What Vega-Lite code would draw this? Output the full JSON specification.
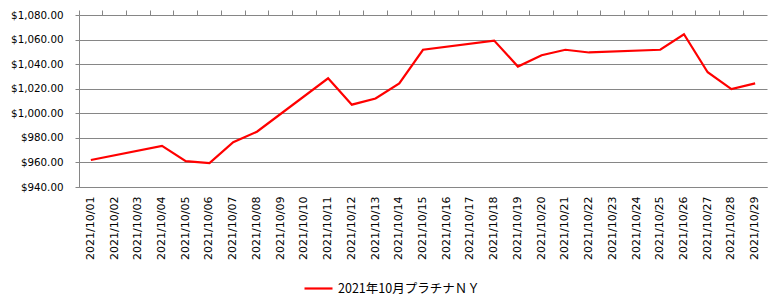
{
  "$schema": "https://vega.github.io/schema/vega-lite/v6.json",
  "autosize": "none",
  "width": 688,
  "height": 172,
  "padding": {"left": 79, "top": 15, "right": 15, "bottom": 115},
  "background": "white",
  "config": {
    "view": {"stroke": null},
    "axis": {"labelFont": "DejaVu Sans", "labelColor": "#000000", "domainColor": "#868686", "tickColor": "#868686", "gridColor": "#868686", "gridOpacity": 1, "title": null},
    "legend": {"labelFont": "Noto Sans CJK JP", "labelFontSize": 12.5, "labelColor": "#000000"}
  },
  "data": {
    "values": [
      {"date": "2021/10/01", "price": 962.0, "series": "2021年10月プラチナＮＹ"},
      {"date": "2021/10/04", "price": 973.5, "series": "2021年10月プラチナＮＹ"},
      {"date": "2021/10/05", "price": 961.0, "series": "2021年10月プラチナＮＹ"},
      {"date": "2021/10/06", "price": 959.5, "series": "2021年10月プラチナＮＹ"},
      {"date": "2021/10/07", "price": 976.5, "series": "2021年10月プラチナＮＹ"},
      {"date": "2021/10/08", "price": 985.0, "series": "2021年10月プラチナＮＹ"},
      {"date": "2021/10/11", "price": 1028.5, "series": "2021年10月プラチナＮＹ"},
      {"date": "2021/10/12", "price": 1007.0, "series": "2021年10月プラチナＮＹ"},
      {"date": "2021/10/13", "price": 1012.0, "series": "2021年10月プラチナＮＹ"},
      {"date": "2021/10/14", "price": 1024.3, "series": "2021年10月プラチナＮＹ"},
      {"date": "2021/10/15", "price": 1051.7, "series": "2021年10月プラチナＮＹ"},
      {"date": "2021/10/18", "price": 1059.2, "series": "2021年10月プラチナＮＹ"},
      {"date": "2021/10/19", "price": 1038.0, "series": "2021年10月プラチナＮＹ"},
      {"date": "2021/10/20", "price": 1047.3, "series": "2021年10月プラチナＮＹ"},
      {"date": "2021/10/21", "price": 1051.7, "series": "2021年10月プラチナＮＹ"},
      {"date": "2021/10/22", "price": 1049.5, "series": "2021年10月プラチナＮＹ"},
      {"date": "2021/10/25", "price": 1051.7, "series": "2021年10月プラチナＮＹ"},
      {"date": "2021/10/26", "price": 1064.3, "series": "2021年10月プラチナＮＹ"},
      {"date": "2021/10/27", "price": 1033.4, "series": "2021年10月プラチナＮＹ"},
      {"date": "2021/10/28", "price": 1019.7, "series": "2021年10月プラチナＮＹ"},
      {"date": "2021/10/29", "price": 1024.3, "series": "2021年10月プラチナＮＹ"}
    ]
  },
  "layer": [
    {
      "mark": {"type": "line", "strokeWidth": 2.2, "interpolate": "linear"},
      "encoding": {
        "x": {
          "field": "date", "type": "ordinal",
          "scale": {"type": "band", "paddingInner": 0, "paddingOuter": 0,
            "domain": ["2021/10/01","2021/10/02","2021/10/03","2021/10/04","2021/10/05","2021/10/06","2021/10/07","2021/10/08","2021/10/09","2021/10/10","2021/10/11","2021/10/12","2021/10/13","2021/10/14","2021/10/15","2021/10/16","2021/10/17","2021/10/18","2021/10/19","2021/10/20","2021/10/21","2021/10/22","2021/10/23","2021/10/24","2021/10/25","2021/10/26","2021/10/27","2021/10/28","2021/10/29"]},
          "axis": {"labelAngle": -90, "labelFontSize": 11, "ticks": false, "labelPadding": 9, "domain": true, "grid": false}
        },
        "y": {
          "field": "price", "type": "quantitative",
          "scale": {"domain": [940, 1080], "nice": false, "zero": false},
          "axis": {"values": [940, 960, 980, 1000, 1020, 1040, 1060, 1080], "format": "$,.2f", "labelFontSize": 10.3, "tickSize": 4, "labelPadding": 12, "grid": true, "domain": true}
        },
        "color": {
          "field": "series", "type": "nominal",
          "scale": {"range": ["#FF0000"]},
          "legend": {"title": null, "orient": "none", "legendX": 224, "legendY": 258, "symbolType": "stroke", "symbolSize": 784, "symbolStrokeWidth": 2.2, "labelOffset": 4}
        }
      }
    },
    {
      "mark": {"type": "tick", "opacity": 0},
      "encoding": {
        "x": {
          "field": "date", "type": "ordinal",
          "axis": {"bandPosition": 0, "labels": false, "ticks": true, "tickSize": 5, "domain": false, "grid": false}
        }
      }
    }
  ],
  "resolve": {"axis": {"x": "independent"}}
}
